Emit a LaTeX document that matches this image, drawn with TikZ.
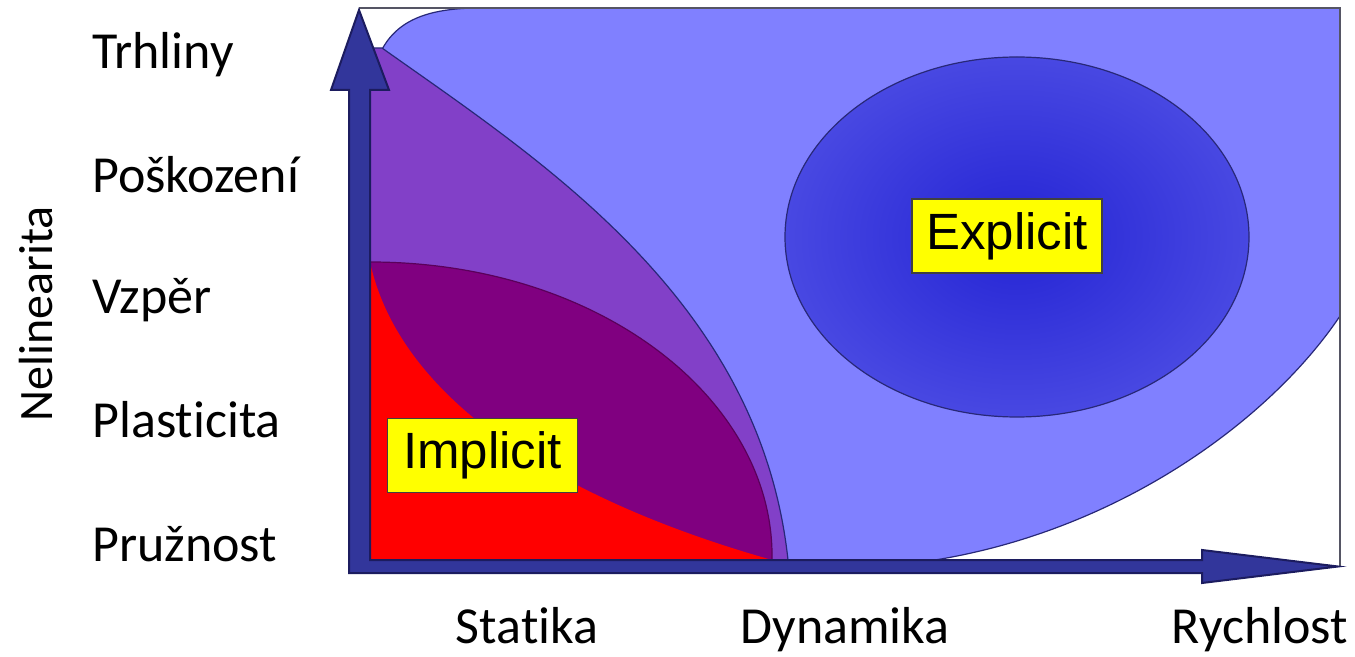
\documentclass[tikz,border=0pt]{standalone}
\usepackage{fontspec}
\setmainfont{Carlito}[Ligatures=NoCommon]
\newfontfamily\tagfont{Liberation Sans}
\definecolor{fastblue}{RGB}{128,128,255}
\definecolor{bandviolet}{RGB}{130,64,200}
\definecolor{deeppurple}{RGB}{128,0,128}
\definecolor{statred}{RGB}{255,0,0}
\definecolor{coreblue}{RGB}{36,36,212}
\definecolor{rimblue}{RGB}{72,72,226}
\definecolor{axisblue}{RGB}{50,54,155}
\definecolor{axisink}{RGB}{28,28,95}
\definecolor{edgeink}{RGB}{40,40,120}
\definecolor{framegray}{RGB}{85,85,100}
\definecolor{tagyellow}{RGB}{255,255,0}
\tikzset{
  region/.style={draw=edgeink,line width=0.6pt},
  axisbody/.style={fill=axisblue,draw=axisink,line width=1pt,line join=miter},
  tag/.style={fill=tagyellow,draw=black!75,line width=0.6pt,
    font=\tagfont\fontsize{25.5}{30}\selectfont,inner sep=0pt,
    minimum width=95pt,minimum height=37pt},
  level/.style={anchor=base west,inner sep=0pt,font=\fontsize{26}{30}\selectfont},
  speed/.style={anchor=base,inner sep=0pt,font=\fontsize{26}{30}\selectfont}
}

\begin{document}
\begin{tikzpicture}[x=0.5pt,y=-0.5pt]
  \useasboundingbox (0,0) rectangle (1355,657);
  % explicit domain
  \path[region,fill=fastblue] (370,560) -- (370,90) .. controls (378,30) and (410,8) .. (480,8)
    -- (1340,8) -- (1340,316) .. controls (1270,420) and (1120,530) .. (935,560) -- cycle;
  \draw[framegray,line width=1pt] (359,8) -- (1340,8) -- (1340,566);
  \path[shade,inner color=coreblue,outer color=rimblue,draw=edgeink,line width=0.6pt]
    (1017,237) ellipse [x radius=232,y radius=180];
  % implicit domain
  \path[region,fill=bandviolet] (370,560) -- (370,48) -- (382,48)
    .. controls (540,160) and (760,300) .. (788,560) -- cycle;
  \path[draw=deeppurple!70!black,line width=0.6pt,fill=deeppurple] (370,560) -- (370,262)
    .. controls (600,262) and (775,400) .. (772,560) -- cycle;
  \path[fill=statred] (370,560) -- (370,262) .. controls (400,400) and (560,500) .. (772,560) -- cycle;
  \node[tag] (implicit) at (482.5,455.5) {Implicit};
  \node[tag] (explicit) at (1007,236) {Explicit};
  % axes
  \path[axisbody] (349,573) -- (349,90) -- (331,90) -- (359,10) -- (389,90) -- (370,90)
    -- (370,560) -- (1202,560) -- (1202,550) -- (1338,566.5) -- (1202,583) -- (1202,573) -- cycle;
  % labels
  \node[level] (trhliny) at (92,69) {Trhliny};
  \node[level] (poskozeni) at (92,193) {Poškození};
  \node[level] (vzper) at (92,314) {Vzpěr};
  \node[level] (plasticita) at (92,438) {Plasticita};
  \node[level] (pruznost) at (92,561) {Pružnost};
  \node[anchor=base,inner sep=0pt,rotate=90,font=\fontsize{24}{28}\selectfont] (nelinearita) at (53,314) {Nelinearita};
  \node[speed] (statika) at (527,643) {Statika};
  \node[speed] (dynamika) at (845,643) {Dynamika};
  \node[speed] (rychlost) at (1260,643) {Rychlost};
\end{tikzpicture}
\end{document}
